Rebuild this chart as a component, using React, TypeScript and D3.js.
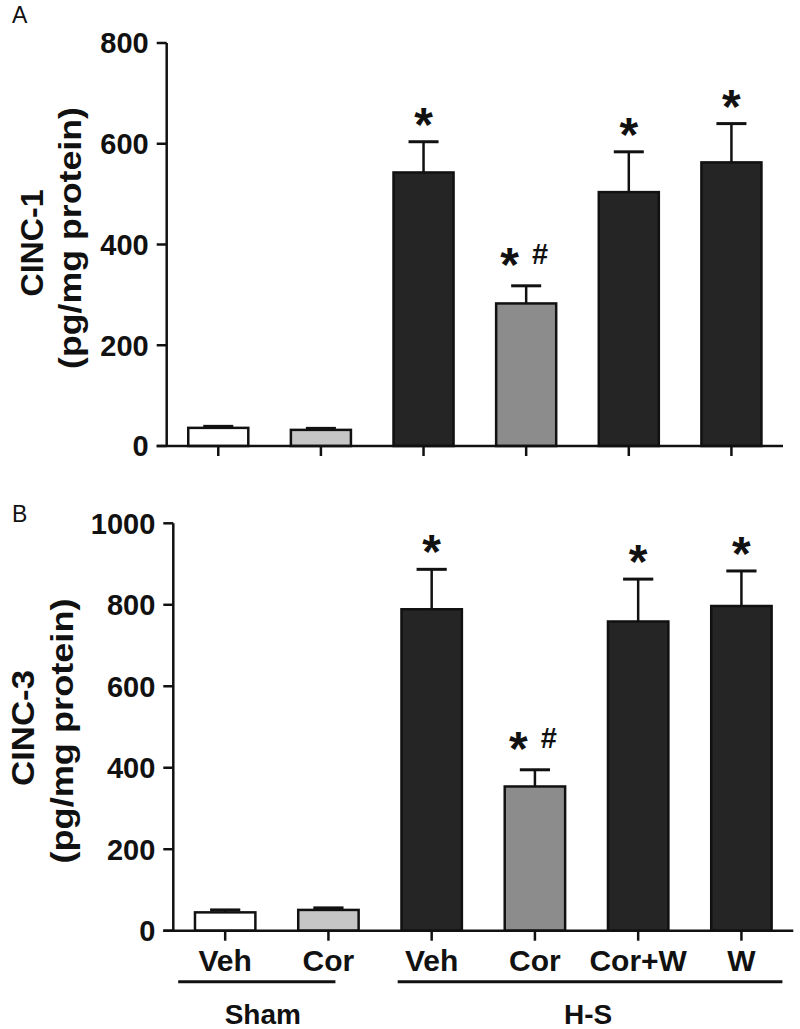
import React from "react";
import * as d3 from "d3";

// ---------- data ----------
const categories = ["Veh", "Cor", "Veh", "Cor", "Cor+W", "W"];
const barFills = ["#ffffff", "#c6c6c6", "#252525", "#8c8c8c", "#252525", "#252525"];
const groupLabels = ["Sham", "H-S"];
const groupSpans = [[0, 1], [2, 5]];

const cinc1Means = [36, 32, 543, 283, 504, 563];
const cinc1Errors = [3, 3, 61, 35, 80, 77];
const cinc1Marks = ["", "", "*", "*#", "*", "*"];
const cinc1Ticks = [0, 200, 400, 600, 800];

const cinc3Means = [45, 51, 789, 354, 759, 797];
const cinc3Errors = [6, 5, 98, 41, 104, 86];
const cinc3Marks = ["", "", "*", "*#", "*", "*"];
const cinc3Ticks = [0, 200, 400, 600, 800, 1000];

const FONT = "'Liberation Sans', Arial, Helvetica, sans-serif";

type PanelProps = {
  letter: string;
  line1: string;
  line2: string;
  means: number[];
  errors: number[];
  marks: string[];
  ticks: number[];
  x0: number;
  x1: number;
  yBottom: number;
  yTop: number;
  lab1X: number;
  lab1Y: number;
  lab1Len: number;
  lab2X: number;
  lab2Y: number;
  lab2Len: number;
  letterX: number;
  letterY: number;
  showCats: boolean;
};

function Panel(p: PanelProps) {
  const maxV = p.ticks[p.ticks.length - 1];
  const y = d3.scaleLinear().domain([0, maxV]).range([p.yBottom, p.yTop]);
  const x = d3
    .scaleBand<number>()
    .domain(d3.range(categories.length))
    .range([p.x0, p.x1])
    .paddingInner(0.415)
    .paddingOuter(0.21);
  const bw = x.bandwidth();
  const cx = (i: number) => (x(i) as number) + bw / 2;
  const sw = 2.5;
  return (
    <g fontFamily={FONT}>
      <text x={p.letterX} y={p.letterY} fontSize={23} fill="#111">
        {p.letter}
      </text>
      {/* y label */}
      <text
        transform={`translate(${p.lab1X},${p.lab1Y}) rotate(-90)`}
        textAnchor="middle"
        fontSize={32}
        fontWeight="bold"
        fill="#111"
        textLength={p.lab1Len}
        lengthAdjust="spacingAndGlyphs"
      >
        {p.line1}
      </text>
      <text
        transform={`translate(${p.lab2X},${p.lab2Y}) rotate(-90)`}
        textAnchor="middle"
        fontSize={32}
        fontWeight="bold"
        fill="#111"
        textLength={p.lab2Len}
        lengthAdjust="spacingAndGlyphs"
      >
        {p.line2}
      </text>
      {/* bars */}
      {p.means.map((m, i) => (
        <g key={i}>
          <line
            x1={cx(i)}
            x2={cx(i)}
            y1={y(m)}
            y2={y(m + p.errors[i])}
            stroke="#111"
            strokeWidth={sw}
          />
          <line
            x1={cx(i) - bw / 4}
            x2={cx(i) + bw / 4}
            y1={y(m + p.errors[i])}
            y2={y(m + p.errors[i])}
            stroke="#111"
            strokeWidth={sw + 0.5}
          />
          <rect
            x={x(i) as number}
            y={y(m)}
            width={bw}
            height={y(0) - y(m)}
            fill={barFills[i]}
            stroke="#111"
            strokeWidth={sw}
          />
        </g>
      ))}
      {/* significance marks */}
      {p.marks.map((mk, i) => {
        if (!mk) return null;
        const top = y(p.means[i] + p.errors[i]);
        if (mk === "*") {
          return (
            <text
              key={i}
              x={cx(i)}
              y={top - 28 + 27}
              textAnchor="middle"
              fontSize={48}
              fontWeight="bold"
              fill="#111"
            >
              *
            </text>
          );
        }
        return (
          <g key={i}>
            <text
              x={cx(i) - 16.5}
              y={top - 32 + 27}
              textAnchor="middle"
              fontSize={48}
              fontWeight="bold"
              fill="#111"
            >
              *
            </text>
            <text
              x={cx(i) + 14}
              y={top - 32 + 10}
              textAnchor="middle"
              fontSize={29}
              fontWeight="bold"
              fill="#111"
            >
              #
            </text>
          </g>
        );
      })}
      {/* axes */}
      <line x1={p.x0} x2={p.x0} y1={p.yTop} y2={p.yBottom} stroke="#111" strokeWidth={sw} />
      <line x1={p.x0 - 10} x2={p.x1} y1={p.yBottom} y2={p.yBottom} stroke="#111" strokeWidth={sw} />
      {p.ticks.map((t) => (
        <g key={t}>
          <line x1={p.x0 - 10} x2={p.x0} y1={y(t)} y2={y(t)} stroke="#111" strokeWidth={sw} />
          <text
            x={p.x0 - 18}
            y={y(t)}
            dy="0.36em"
            textAnchor="end"
            fontSize={29}
            fontWeight="bold"
            fill="#111"
          >
            {t}
          </text>
        </g>
      ))}
      {categories.map((c, i) => (
        <line
          key={i}
          x1={cx(i)}
          x2={cx(i)}
          y1={p.yBottom}
          y2={p.yBottom + 10}
          stroke="#111"
          strokeWidth={sw}
        />
      ))}
      {p.showCats && (
        <g>
          {categories.map((c, i) => (
            <text
              key={i}
              x={cx(i)}
              y={p.yBottom + 40}
              textAnchor="middle"
              fontSize={30}
              fontWeight="bold"
              fill="#111"
            >
              {c}
            </text>
          ))}
          {groupLabels.map((g, gi) => {
            const [a, b] = groupSpans[gi];
            const xs = cx(a) - (gi === 0 ? 47 : 34);
            const xe = cx(b) + (gi === 0 ? 7 : 41);
            return (
              <g key={g}>
                <line x1={xs} x2={xe} y1={p.yBottom + 51} y2={p.yBottom + 51} stroke="#111" strokeWidth={3} />
                <text
                  x={(xs + xe) / 2 + (gi === 0 ? 6 : -2)}
                  y={p.yBottom + 93}
                  textAnchor="middle"
                  fontSize={28}
                  fontWeight="bold"
                  fill="#111"
                >
                  {g}
                </text>
              </g>
            );
          })}
        </g>
      )}
    </g>
  );
}

export default function App() {
  return (
    <svg
      width={800}
      height={1029}
      style={{ position: "absolute", left: 0, top: 0, background: "#fff" }}
    >
      <rect width={800} height={1029} fill="#fff" />
      <Panel
        letter="A"
        line1="CINC-1"
        line2="(pg/mg protein)"
        means={cinc1Means}
        errors={cinc1Errors}
        marks={cinc1Marks}
        ticks={cinc1Ticks}
        x0={166.7}
        x1={783}
        yBottom={446}
        yTop={43}
        lab1X={43}
        lab1Y={243}
        lab1Len={107}
        lab2X={81}
        lab2Y={238}
        lab2Len={262}
        letterX={12}
        letterY={23}
        showCats={false}
      />
      <Panel
        letter="B"
        line1="CINC-3"
        line2="(pg/mg protein)"
        means={cinc3Means}
        errors={cinc3Errors}
        marks={cinc3Marks}
        ticks={cinc3Ticks}
        x0={173.3}
        x1={793.3}
        yBottom={930.7}
        yTop={523.3}
        lab1X={33.5}
        lab1Y={728}
        lab1Len={116}
        lab2X={73}
        lab2Y={731}
        lab2Len={265}
        letterX={12}
        letterY={522}
        showCats={true}
      />
    </svg>
  );
}
